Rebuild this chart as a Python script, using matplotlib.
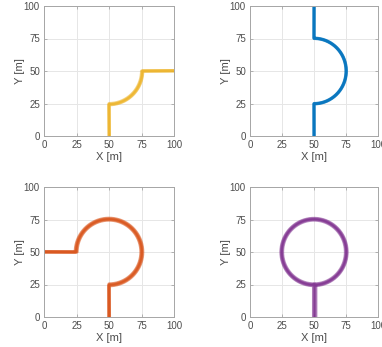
import numpy as np
import matplotlib
matplotlib.use("Agg")
import matplotlib.pyplot as plt

plt.rcParams['font.family'] = ['Liberation Sans', 'DejaVu Sans']

ticks = [0, 25, 50, 75, 100]
colors = ['#EDB120', '#0072BD', '#D95319', '#7E2F8E']

# each path: start straight segment, arc (center, radius, start angle, end angle), end straight segment
starts = [(50, 0), (50, 0), (50, 0), (50, 0)]
arc_centers = [(50, 50), (50, 50), (50, 50), (50, 50)]
arc_radius = [25, 25, 25, 25]
arc_start_deg = [-90, -90, -90, -90]
arc_end_deg = [0, 90, 180, 270]
ends = [(100, 50), (50, 100), (0, 50), (50, 25)]
# small lateral offsets of repeated runs (m)
run_offsets = [[0.0, 0.6, 1.0], [0.0, 0.3], [0.0, 0.5, 1.0, -0.5], [0.0, 0.5, -0.5, 0.9]]
stem_offsets = [[0.0, 0.2, 0.3], [0.0, 0.1], [0.0, 0.2, 0.4, -0.2], [0.0, 0.8, 1.5, -0.4]]
run_alpha = [0.55, 0.8, 0.55, 0.5]

# axes positions in pixels (left, top, width, height)
W, H = 382, 347
pos = [(44, 6, 130, 130), (250, 6, 128, 130), (44, 187, 130, 130), (250, 187, 128, 130)]

fig = plt.figure(figsize=(W / 100, H / 100), dpi=100)
for i in range(4):
    l, t, w, h = pos[i]
    ax = fig.add_axes([l / W, 1 - (t + h) / H, w / W, h / H])
    cx, cy = arc_centers[i]
    for off, so in zip(run_offsets[i], stem_offsets[i]):
        r = arc_radius[i] + off
        th = np.radians(np.linspace(arc_start_deg[i], arc_end_deg[i], 300))
        ax_ = cx + r * np.cos(th)
        ay_ = cy + r * np.sin(th)
        if i == 3:
            xs = np.concatenate([[starts[i][0] + so, cx + so], ax_])
            ys = np.concatenate([[starts[i][1], cy - arc_radius[i]], ay_])
        else:
            ex, ey = ends[i]
            if ey == 50:
                ey = ey + so
            else:
                ex = ex + so
            xs = np.concatenate([[starts[i][0] + so], ax_, [ex]])
            ys = np.concatenate([[starts[i][1]], ay_, [ey]])
        ax.plot(xs, ys, color=colors[i], lw=2.2, alpha=run_alpha[i], solid_capstyle='butt')
    ax.set_xlim(0, 100)
    ax.set_ylim(0, 100)
    ax.set_xticks(ticks)
    ax.set_yticks(ticks)
    ax.grid(True, color='#e6e6e6', lw=0.7)
    ax.set_axisbelow(True)
    for s in ax.spines.values():
        s.set_color('#a6a6a6')
        s.set_linewidth(0.7)
    ax.tick_params(direction='in', length=2, width=0.6, colors='#a6a6a6',
                   labelcolor='#4d4d4d', labelsize=7, pad=3,
                   top=True, right=True)
    ax.set_xlabel('X [m]', fontsize=8, color='#4d4d4d', labelpad=1)
    ax.set_ylabel('Y [m]', fontsize=8, color='#4d4d4d', labelpad=-1)

fig.savefig('out.png', dpi=100, facecolor='white')
